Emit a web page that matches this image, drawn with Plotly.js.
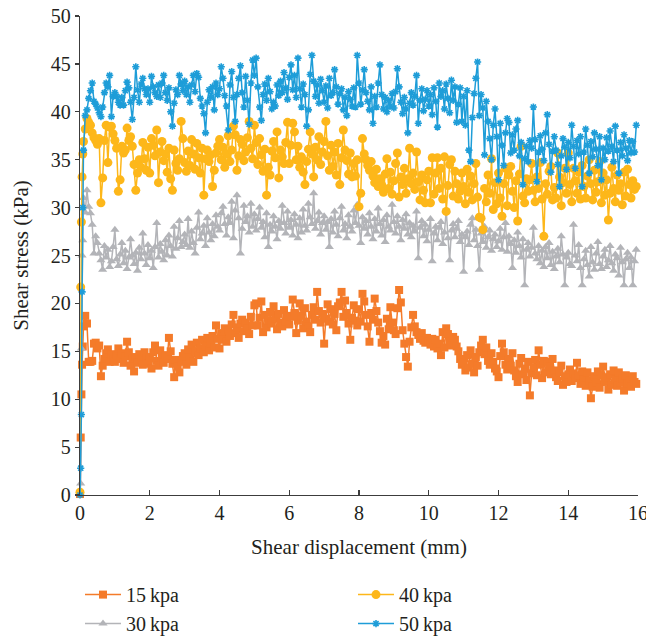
<!DOCTYPE html>
<html><head><meta charset="utf-8">
<script src="https://cdn.plot.ly/plotly-3.0.1.min.js"></script>
<style>html,body{margin:0;padding:0;background:#fff}#chart{width:646px;height:639px}</style>
</head><body><div id="chart"></div>
<script>
const seriesNames = ["15\u2009kpa", "30\u2009kpa", "40\u2009kpa", "50\u2009kpa"];

const displacement = [
0,0.02,0.04,0.06,0.08,
0.1,0.15,0.2,0.25,0.3,0.35,0.4,0.45,0.5,0.55,0.6,0.65,0.7,0.75,0.8,0.85,0.9,0.95,
1,1.05,1.1,1.15,1.2,1.25,1.3,1.35,1.4,1.45,1.5,1.55,1.6,1.65,1.7,1.75,1.8,1.85,1.9,1.95,
2,2.05,2.1,2.15,2.2,2.25,2.3,2.35,2.4,2.45,2.5,2.55,2.6,2.65,2.7,2.75,2.8,2.85,2.9,2.95,
3,3.05,3.1,3.15,3.2,3.25,3.3,3.35,3.4,3.45,3.5,3.55,3.6,3.65,3.7,3.75,3.8,3.85,3.9,3.95,
4,4.05,4.1,4.15,4.2,4.25,4.3,4.35,4.4,4.45,4.5,4.55,4.6,4.65,4.7,4.75,4.8,4.85,4.9,4.95,
5,5.05,5.1,5.15,5.2,5.25,5.3,5.35,5.4,5.45,5.5,5.55,5.6,5.65,5.7,5.75,5.8,5.85,5.9,5.95,
6,6.05,6.1,6.15,6.2,6.25,6.3,6.35,6.4,6.45,6.5,6.55,6.6,6.65,6.7,6.75,6.8,6.85,6.9,6.95,
7,7.05,7.1,7.15,7.2,7.25,7.3,7.35,7.4,7.45,7.5,7.55,7.6,7.65,7.7,7.75,7.8,7.85,7.9,7.95,
8,8.05,8.1,8.15,8.2,8.25,8.3,8.35,8.4,8.45,8.5,8.55,8.6,8.65,8.7,8.75,8.8,8.85,8.9,8.95,
9,9.05,9.1,9.15,9.2,9.25,9.3,9.35,9.4,9.45,9.5,9.55,9.6,9.65,9.7,9.75,9.8,9.85,9.9,9.95,
10,10.05,10.1,10.15,10.2,10.25,10.3,10.35,10.4,10.45,10.5,10.55,10.6,10.65,10.7,10.75,10.8,10.85,10.9,10.95,
11,11.05,11.1,11.15,11.2,11.25,11.3,11.35,11.4,11.45,11.5,11.55,11.6,11.65,11.7,11.75,11.8,11.85,11.9,11.95,
12,12.05,12.1,12.15,12.2,12.25,12.3,12.35,12.4,12.45,12.5,12.55,12.6,12.65,12.7,12.75,12.8,12.85,12.9,12.95,
13,13.05,13.1,13.15,13.2,13.25,13.3,13.35,13.4,13.45,13.5,13.55,13.6,13.65,13.7,13.75,13.8,13.85,13.9,13.95,
14,14.05,14.1,14.15,14.2,14.25,14.3,14.35,14.4,14.45,14.5,14.55,14.6,14.65,14.7,14.75,14.8,14.85,14.9,14.95,
15,15.05,15.1,15.15,15.2,15.25,15.3,15.35,15.4,15.45,15.5,15.55,15.6,15.65,15.7,15.75,15.8,15.85,15.9,15.95
];

const stress15 = [
0.1,6.0,10.5,13.6,15.5,
17.6,18.7,17.9,13.9,13.9,14.0,15.8,15.9,15.3,15.6,12.4,13.5,14.2,14.8,15.2,13.9,14.7,14.1,
13.9,14.6,15.3,14.2,14.8,13.8,14.5,16.0,14.9,13.5,14.2,12.9,14.4,13.8,14.7,14.1,13.6,14.9,14.3,13.7,
14.4,13.2,14.9,15.6,14.0,13.5,15.1,14.3,13.8,14.6,14.2,16.4,15.0,13.7,12.3,14.1,13.4,12.8,13.9,14.5,
14.8,13.6,15.2,14.4,15.7,13.9,15.0,15.9,14.6,15.3,16.2,14.9,15.5,16.4,15.1,15.8,16.6,15.4,17.7,16.3,
15.3,16.9,16.2,17.4,16.0,17.2,16.6,17.8,18.8,16.9,17.5,16.4,17.9,18.3,17.1,18.0,17.4,16.8,18.6,17.7,
19.8,20.0,17.7,18.5,20.2,17.0,18.8,17.5,18.2,19.1,17.9,19.7,18.4,17.3,18.9,18.0,17.6,19.3,18.1,18.7,
17.8,18.6,20.4,19.0,16.9,18.2,20.0,18.7,17.4,19.5,18.1,17.6,17.0,18.8,19.6,18.3,21.2,19.2,18.0,18.9,
15.8,18.4,19.9,18.1,19.4,17.8,18.9,17.2,19.7,20.1,21.2,18.6,20.3,19.0,17.9,16.2,18.5,19.8,18.2,17.7,
19.4,18.1,21.0,20.2,18.8,17.6,16.0,19.0,18.3,20.5,19.2,18.0,17.1,15.9,16.6,15.7,18.4,17.3,19.6,18.0,
17.2,16.8,19.5,21.4,20.1,17.2,15.8,14.4,13.4,16.0,17.5,18.8,17.6,17.0,16.7,16.3,16.9,16.1,15.9,16.4,
16.0,15.7,16.3,15.5,16.2,15.3,15.8,14.6,17.0,15.4,17.4,16.8,16.0,15.6,16.5,16.2,15.5,15.0,14.2,13.6,
13.8,13.0,14.6,13.3,15.1,13.7,12.8,14.4,13.5,14.9,15.6,16.2,14.7,15.4,14.0,13.6,14.8,13.9,13.2,12.9,
12.3,14.5,15.8,14.9,13.6,13.1,14.2,13.5,14.8,13.0,12.4,11.8,13.7,14.3,12.6,13.2,12.0,13.9,10.4,12.7,
13.3,14.1,12.5,15.1,13.6,12.2,14.0,12.8,13.9,13.4,12.6,14.2,13.0,12.3,11.9,12.8,13.5,11.5,12.4,11.8,
12.6,13.1,11.9,12.7,12.2,13.8,12.5,11.6,12.9,12.1,11.4,12.8,12.0,10.1,11.3,12.4,11.7,12.9,11.2,12.5,
13.4,11.8,12.3,11.0,12.6,11.5,13.0,12.1,11.4,12.8,11.7,12.2,10.9,12.5,11.6,12.0,11.3,12.4,11.8,11.6
];

const stress30 = [
0.2,1.2,15.3,25.0,26.6,
31.0,29.5,31.8,30.1,29.4,28.2,25.2,27.0,26.3,25.2,24.5,23.5,26.0,24.8,25.6,23.8,24.4,25.9,
27.7,24.6,23.9,25.1,26.3,24.2,25.5,23.6,24.8,26.7,25.0,24.1,25.3,23.4,25.8,24.6,27.3,25.2,24.0,26.1,
24.7,25.5,23.7,25.9,28.4,24.8,26.2,25.4,24.5,26.6,25.0,27.1,26.0,24.9,28.0,25.7,26.8,28.6,25.9,26.4,
27.2,26.1,28.8,25.8,27.5,26.3,25.2,27.9,29.5,26.7,27.3,28.1,26.0,28.9,27.4,26.6,28.3,27.0,29.2,28.0,
27.6,29.4,30.1,28.3,27.1,29.0,28.4,30.6,26.8,29.7,31.3,28.9,25.2,27.8,30.2,28.5,29.1,27.4,30.4,28.0,
29.3,27.6,28.8,30.0,27.9,28.5,26.9,29.4,25.9,28.2,27.5,29.1,28.0,26.7,28.6,27.8,30.2,28.4,27.3,29.6,
27.9,28.7,27.1,29.3,28.2,26.8,28.9,27.4,29.8,28.1,27.6,30.4,29.0,28.3,31.5,27.8,28.6,29.5,27.2,28.4,
29.1,27.7,28.5,25.9,28.8,27.4,29.6,28.2,27.0,28.9,30.1,27.6,28.3,26.8,29.2,28.0,27.5,29.7,28.4,30.3,
28.1,26.3,29.0,27.8,28.6,27.2,29.4,28.0,26.7,28.8,27.5,29.9,28.3,27.1,28.7,26.4,29.2,28.0,27.6,30.3,
28.5,27.3,29.1,28.0,26.6,28.7,27.8,29.3,27.2,28.4,26.9,28.1,27.5,29.6,24.7,27.9,28.6,27.0,28.2,26.5,
27.7,28.8,24.4,27.3,28.0,26.6,27.9,28.5,26.2,27.4,29.7,26.8,24.5,27.6,28.3,26.9,27.8,28.6,26.4,27.2,
23.3,26.9,27.5,26.1,28.2,28.9,26.6,27.7,26.0,23.5,27.3,26.4,28.0,25.8,26.9,27.6,25.5,26.7,27.2,25.9,
26.5,27.8,25.6,26.9,28.4,25.4,27.0,26.2,23.7,26.6,25.3,27.4,26.0,24.8,26.7,21.9,25.6,26.3,24.9,25.8,
27.9,25.2,24.6,26.0,24.2,25.5,23.8,25.9,24.7,26.3,24.0,25.4,23.6,24.9,25.7,24.3,27.0,25.1,21.9,24.8,
25.3,24.1,23.9,28.2,25.0,24.4,26.1,23.7,21.9,24.6,25.5,24.0,22.8,25.9,24.3,23.5,25.2,26.4,24.1,23.6,
24.9,25.6,23.8,24.5,26.0,24.2,23.4,25.1,24.7,22.9,25.8,24.3,21.9,24.6,25.3,23.7,24.8,21.9,24.4,25.6
];

const stress40 = [
0.3,21.7,28.5,33.2,35.6,
36.9,38.2,39.3,38.9,38.6,37.8,37.3,37.0,36.6,37.2,30.5,33.1,37.0,38.6,34.7,38.4,38.5,37.7,
37.0,36.2,31.7,32.9,36.4,35.7,36.0,38.3,37.0,37.4,36.4,34.5,31.8,33.6,35.0,34.2,36.8,35.1,33.9,36.3,
33.6,37.2,36.5,35.4,38.1,32.6,35.8,36.9,34.9,35.6,33.7,36.2,33.0,31.8,36.0,34.6,33.9,35.1,39.0,37.2,
34.7,33.8,35.9,34.4,37.1,35.6,34.0,36.7,35.2,33.6,36.2,31.3,35.1,36.0,34.8,35.5,32.2,33.9,35.7,36.4,
37.1,35.0,36.3,34.2,35.6,37.5,34.8,36.0,38.5,37.6,33.9,35.4,37.1,36.6,34.9,35.8,37.3,39.0,36.2,35.1,
38.6,36.8,34.5,37.2,35.5,33.8,36.1,31.3,34.2,33.4,35.9,36.9,35.2,37.9,33.1,36.0,35.3,34.6,36.8,38.9,
34.6,36.5,38.8,37.9,35.0,36.4,34.2,35.3,33.7,32.4,34.8,36.1,37.9,35.6,33.2,36.3,35.0,37.4,34.5,35.8,
36.9,39.0,35.4,33.9,36.5,34.3,35.8,33.4,36.7,32.4,35.2,38.1,36.0,34.9,33.5,35.7,33.2,34.6,33.3,35.0,
30.1,31.5,37.2,35.6,35.0,34.4,33.9,34.8,33.3,32.6,34.0,32.2,33.0,32.4,31.6,33.5,35.1,32.0,33.7,31.4,
32.8,34.6,35.7,31.1,33.2,32.4,34.1,31.5,33.0,36.2,32.5,33.6,31.9,35.8,32.7,30.8,33.4,31.8,30.5,32.9,
33.8,30.5,35.2,31.4,33.6,35.2,32.0,34.1,30.9,35.3,29.6,32.3,34.5,35.0,31.2,33.8,32.5,30.9,31.7,33.6,
32.2,30.4,34.0,31.6,33.3,30.8,32.5,34.6,31.1,29.0,28.9,27.7,32.0,30.6,33.4,31.5,35.1,29.8,32.6,30.4,
33.6,31.0,29.1,32.5,34.1,30.2,33.4,34.3,31.7,30.0,32.8,28.6,33.5,36.4,31.2,30.5,33.0,31.7,32.9,34.6,
31.8,30.6,33.2,32.0,34.7,30.9,27.0,32.5,31.4,33.8,34.3,30.8,32.1,31.0,35.7,33.2,30.2,32.6,34.1,31.5,
35.7,32.4,30.6,34.1,32.8,31.5,33.7,30.9,34.4,32.2,31.0,33.3,35.0,32.5,30.8,33.9,31.6,32.7,34.8,30.5,
33.6,31.3,32.9,28.7,31.5,34.2,32.0,30.6,33.4,31.8,32.5,30.3,33.7,31.2,34.0,32.4,31.0,32.8,31.9,32.2
];

const stress50 = [
0,2.8,8.4,21.2,30.0,
36.0,39.6,40.2,41.4,42.2,43.0,41.1,40.8,40.4,39.9,39.5,40.5,42.0,43.0,42.6,43.8,39.5,41.6,
42.0,41.6,41.0,40.7,41.5,40.7,42.2,43.1,42.5,41.0,39.2,41.5,44.7,42.3,41.0,42.9,43.5,42.4,41.8,42.4,
41.0,43.7,42.6,42.0,41.6,42.8,41.5,43.0,43.8,42.0,41.2,42.5,40.0,38.5,40.9,42.3,41.8,43.8,42.9,42.2,
43.2,41.8,42.6,41.0,42.8,43.8,42.1,44.0,43.6,41.4,40.6,39.8,37.8,41.0,42.3,41.5,42.6,40.2,43.0,41.8,
42.4,44.7,43.5,41.7,40.6,38.1,42.8,44.2,41.5,39.0,41.8,43.5,44.8,42.0,40.5,43.7,41.2,38.7,43.0,45.4,
43.8,45.6,42.6,40.5,39.1,41.8,42.9,41.2,43.5,42.1,40.3,41.0,40.6,42.8,41.7,43.2,42.0,44.1,42.5,41.3,
43.6,44.9,42.3,43.8,41.5,45.6,42.4,40.5,42.9,41.8,38.5,40.2,43.9,45.9,43.2,41.6,42.8,40.9,43.4,42.2,
41.0,42.7,40.4,43.5,41.7,42.0,44.4,42.6,40.8,41.9,42.4,40.2,41.5,39.6,42.1,41.3,40.6,42.5,40.5,45.9,
43.0,40.8,42.3,44.4,42.0,41.1,40.2,42.6,38.8,41.6,40.5,43.0,44.9,41.8,40.3,41.5,40.0,41.2,40.6,41.9,
40.4,42.1,44.5,42.6,41.0,39.8,41.5,40.3,37.8,40.9,42.0,40.7,41.6,43.8,38.8,41.2,42.4,40.1,41.3,42.2,
40.6,41.8,39.7,42.5,41.1,38.4,43.0,41.6,42.2,40.3,42.9,41.4,39.9,43.3,41.2,42.6,38.9,40.8,42.5,39.0,
41.6,38.6,42.2,36.0,34.8,39.4,41.9,43.5,45.2,39.6,41.8,40.4,35.5,41.1,39.0,37.2,35.0,38.6,40.3,37.4,
32.9,38.8,36.5,34.4,37.8,39.3,38.9,35.7,37.6,36.0,38.2,39.1,35.4,36.8,32.4,35.1,36.4,34.8,37.0,36.2,
40.5,37.1,32.7,35.8,37.5,36.1,34.9,37.8,39.7,36.6,33.7,35.9,37.4,36.0,34.5,32.2,35.4,37.2,36.3,34.0,
36.8,35.2,38.6,36.4,34.1,37.0,35.6,37.4,32.2,35.8,38.2,36.5,33.6,36.9,35.3,37.8,36.1,34.4,37.4,32.9,
36.2,35.0,37.3,35.9,38.0,36.4,34.8,38.5,36.0,33.6,36.8,35.4,37.6,36.2,34.9,37.0,35.7,36.9,35.8,38.6
];

const colors = ["#F47B2A", "#B3B4B8", "#FDB71A", "#1E9DD8"];
const symbols = ["square", "triangle-up", "circle", "asterisk-open"];
const sizes = [8, 8, 9, 6];
const ranks = [1, 3, 2, 4];
const ys = [stress15, stress30, stress40, stress50];

const traces = ys.map((y, i) => ({
  x: displacement, y: y, type: "scatter", mode: "lines+markers",
  name: seriesNames[i], legendrank: ranks[i], cliponaxis: false,
  line: {color: colors[i], width: 1.5},
  marker: {symbol: symbols[i], size: sizes[i], color: colors[i],
           line: {color: colors[i], width: symbols[i] === "asterisk-open" ? 1.6 : 0}}
}));

const fontFam = "'Liberation Serif', 'Times New Roman', serif";
const txt = {family: fontFam, size: 20, color: "#231f20"};
const ttl = {family: fontFam, size: 21, color: "#231f20"};
const layout = {
  width: 646, height: 639,
  margin: {l: 80, r: 8, t: 16, b: 144},
  paper_bgcolor: "#fff", plot_bgcolor: "#fff",
  font: txt,
  showlegend: true,
  legend: {orientation: "h", xref: "paper", x: 0, xanchor: "left",
           yref: "container", y: 0.1, yanchor: "top",
           entrywidth: 222, entrywidthmode: "pixels", itemwidth: 36,
           traceorder: "normal", font: txt},
  xaxis: {range: [0, 16], dtick: 2, tick0: 0, showgrid: false, zeroline: false,
          showline: true, linecolor: "#3c3c3c", linewidth: 1.3,
          ticks: "inside", ticklen: 5, tickcolor: "#3c3c3c", tickwidth: 1.2,
          ticklabeloverflow: "allow", tickfont: txt,
          title: {text: "Shear displacement (mm)", standoff: 16, font: ttl}},
  yaxis: {range: [0, 50], dtick: 5, tick0: 0, showgrid: false, zeroline: false,
          showline: true, linecolor: "#3c3c3c", linewidth: 1.3,
          ticks: "outside", ticklen: 4, tickcolor: "#3c3c3c", tickwidth: 1.2,
          tickfont: txt,
          title: {text: "Shear stress (kPa)", standoff: 16, font: ttl}}
};

Plotly.newPlot("chart", traces, layout, {staticPlot: true, displayModeBar: false});
</script>
</body></html>
